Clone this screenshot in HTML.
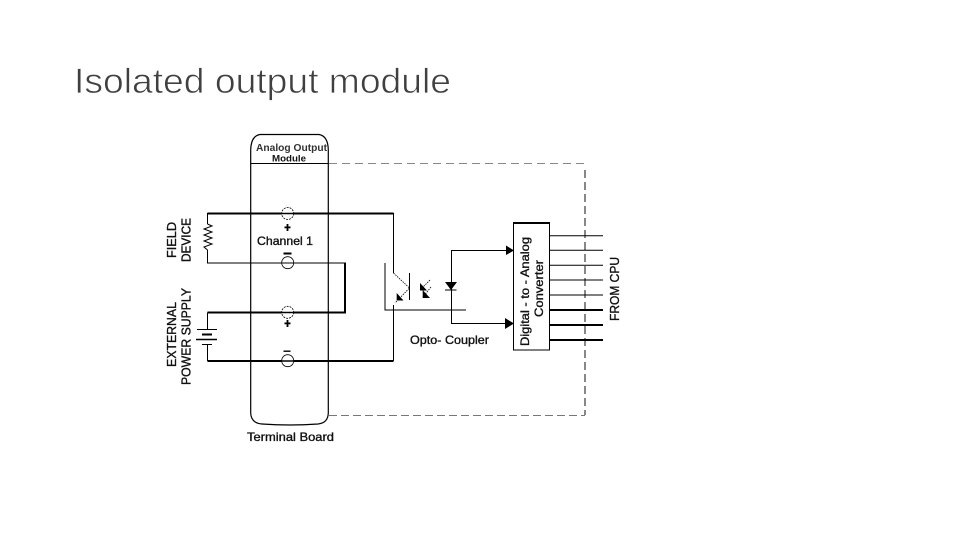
<!DOCTYPE html>
<html><head><meta charset="utf-8"><style>
html,body{margin:0;padding:0;background:#fff;width:960px;height:540px;overflow:hidden}
svg{display:block}
text{font-family:"Liberation Sans",sans-serif;fill:#111}
.l{stroke:#111;stroke-width:.35;fill:#111}
</style></head><body>
<svg width="960" height="540" viewBox="0 0 960 540" xmlns="http://www.w3.org/2000/svg">
<text x="74" y="93" font-size="35" textLength="377" lengthAdjust="spacingAndGlyphs" style="fill:#404040;stroke:#fff;stroke-width:.7">Isolated output module</text>

<!-- dashed enclosure -->
<path d="M329 163.5H585" stroke="#888" stroke-width="1" stroke-dasharray="8 5" fill="none"/>
<path d="M329 415.5H585" stroke="#777" stroke-width="1" stroke-dasharray="8 4" fill="none"/>
<path d="M585 170V415" stroke="#888" stroke-width="2" stroke-dasharray="8 4" fill="none"/>

<!-- module -->
<path d="M250.7 150Q251 136 260 134.5H319Q328 136 328.3 150V413Q328 423 318 424 Q290 426 262 424 Q251 423 250.700 413Z" fill="none" stroke="#000" stroke-width="1.2"/>
<path d="M251 163.5H328" stroke="#000" stroke-width="1"/>
<text x="256" y="151" font-size="10" font-weight="bold" style="fill:#333" textLength="71" lengthAdjust="spacingAndGlyphs">Analog Output</text>
<text x="272" y="161.500" font-size="9" font-weight="bold" textLength="34" lengthAdjust="spacingAndGlyphs">Module</text>

<!-- wires -->
<g fill="none" stroke="#000">
<path d="M207.500 224V213.5H393.5V273" stroke-width="1"/>
<path d="M207.5 213.500H393.5" stroke-width="2"/>
<path d="M207.500 250V263H345" stroke-width="1"/>
<path d="M345 262.5V312.500H207.5" stroke-width="2"/>
<path d="M207.500 312.500V329.500M207.500 344.500V361" stroke-width="1"/>
<path d="M207.500 361H393.5" stroke-width="2"/>
<path d="M393.500 361V305" stroke-width="1"/>
<!-- resistor -->
<path d="M207.500 224L212 226L204 229L212 232L204 235L212 238L204 241L212 244L204 247L207.500 250" stroke-width="1"/>
<!-- battery -->
<path d="M197 329.500H217" stroke-width="1"/>
<path d="M202 334.500H212" stroke-width="2"/>
<path d="M196 339.500H217" stroke-width="1.500"/>
<path d="M202 344.500H212" stroke-width="1"/>
<!-- terminals -->
<circle cx="287.700" cy="213.500" r="6" fill="#fff" stroke-width="0.8" stroke-dasharray="2 1"/>
<circle cx="287.700" cy="262.700" r="6" fill="#fff" stroke-width="0.8"/>
<circle cx="287.700" cy="312.300" r="6" fill="#fff" stroke-width="0.8" stroke-dasharray="2 1"/>
<circle cx="287.700" cy="360.700" r="6" fill="#fff" stroke-width="0.8"/>
<path d="M281.700 213.500H293.700M281.700 312.500H293.700M281.700 361H293.700" stroke-width="1.600"/>
<path d="M281.700 263H293.700" stroke-width="1"/>
<!-- opto coupler -->
<path d="M385 263V310H466" stroke-width="1"/>
<path d="M409.500 273V300" stroke-width="1"/>
<path d="M393.500 273L409.500 288L395 303" stroke-width="0.8" stroke-dasharray="1.500 1"/>
<path d="M430 280L420 290M431 287L423 297" stroke-width="0.8" stroke-dasharray="1.500 1"/>
<path d="M445 290H456.500" stroke-width="1"/>
<path d="M513 250.500H451.500V323.500H513" stroke-width="1"/>
<!-- DAC -->
<rect x="513.500" y="223" width="36" height="127" stroke-width="1"/>
<path d="M513 223H550" stroke-width="2"/>
<path d="M549 235.700H603M549 250.300H603M549 265.300H603M549 280H603M549 295H603" stroke-width="1"/>
<path d="M549 310H603M549 325H603M549 340H603" stroke-width="2"/>
</g>
<g fill="#000">
<path d="M445 282H457L451 290Z"/>
<path d="M396.700 300.500V293L403.500 300.500Z" />
<path d="M420 290.500V283L427 290.500Z"/>
<path d="M422.700 298V290L430 298Z"/>
<path d="M506 245.500L514 250.500L506 255Z"/>
<path d="M505 318L514 323.500L505 329Z"/>
<rect x="284.500" y="226.500" width="6" height="1.800"/>
<rect x="286.600" y="224" width="1.800" height="7"/>
<rect x="283.500" y="252.500" width="8" height="2"/>
<rect x="284.500" y="322.500" width="6" height="1.800"/>
<rect x="286.600" y="320" width="1.800" height="7"/>
<rect x="283.500" y="350.500" width="7" height="1.400"/>
</g>

<text class="l" x="257" y="245" font-size="12" textLength="56" lengthAdjust="spacingAndGlyphs">Channel 1</text>
<text class="l" x="247" y="441" font-size="12" textLength="87" lengthAdjust="spacingAndGlyphs">Terminal Board</text>
<text class="l" x="410" y="344" font-size="12" textLength="79" lengthAdjust="spacingAndGlyphs">Opto- Coupler</text>

<text class="l" transform="translate(176,258) rotate(-90)" font-size="12.500" textLength="36" lengthAdjust="spacingAndGlyphs">FIELD</text>
<text class="l" transform="translate(190.500,262) rotate(-90)" font-size="12.500" textLength="44" lengthAdjust="spacingAndGlyphs">DEVICE</text>
<text class="l" transform="translate(176,367) rotate(-90)" font-size="12.500" textLength="65" lengthAdjust="spacingAndGlyphs">EXTERNAL</text>
<text class="l" transform="translate(190.500,385) rotate(-90)" font-size="12.500" textLength="97" lengthAdjust="spacingAndGlyphs">POWER SUPPLY</text>
<text class="l" transform="translate(529,346) rotate(-90)" font-size="12" textLength="109" lengthAdjust="spacingAndGlyphs">Digital - to - Analog</text>
<text class="l" transform="translate(543,317) rotate(-90)" font-size="12" textLength="57" lengthAdjust="spacingAndGlyphs">Converter</text>
<text class="l" transform="translate(619,321) rotate(-90)" font-size="12.500" textLength="64" lengthAdjust="spacingAndGlyphs">FROM CPU</text>
</svg>
</body></html>
